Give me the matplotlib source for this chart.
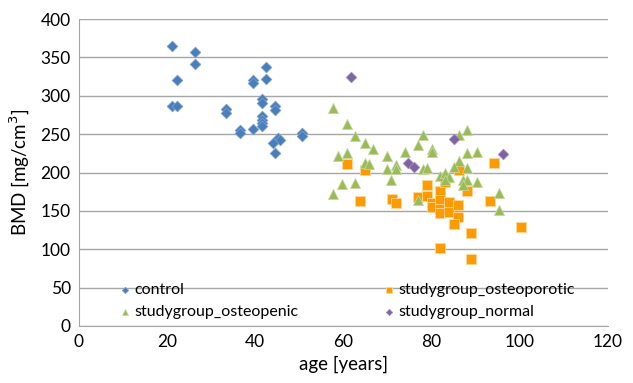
import matplotlib.pyplot as plt

plt.rcParams['font.family'] = ['Lato', 'DejaVu Sans']

# control group
control_age = [21.2, 26.4, 26.4, 22.3, 21.2, 22.3, 33.4, 33.4, 36.5, 36.5,
               39.5, 39.5, 39.5, 41.5, 41.5, 41.5, 41.5, 41.5, 41.5, 42.5,
               42.5, 44.5, 44.5, 45.1, 45.6, 44.1, 44.5, 50.6, 50.6]
control_bmd = [365, 357, 342, 321, 286, 286, 283, 277, 255, 251,
               320, 317, 257, 296, 290, 273, 268, 264, 260, 337,
               322, 287, 282, 245, 242, 238, 226, 251, 248]

# osteoporotic
porotic_age = [60.8, 64.9, 63.8, 70.9, 72.0, 79.0, 76.9, 79.0, 80.0, 80.0,
               82.0, 82.0, 82.0, 82.0, 84.0, 84.0, 86.0, 86.0, 85.0, 88.1,
               89.0, 82.0, 89.0, 93.2, 100.2, 94.2, 86.1, 83.0]
porotic_bmd = [211, 203, 163, 166, 160, 184, 168.5, 169, 160, 155,
               175.5, 164, 152, 147, 161, 148, 158, 141.5, 133, 176,
               121, 101.5, 87, 163, 129.5, 213, 203, 188]

# osteopenic
penic_age = [57.7, 60.7, 62.7, 64.8, 66.7, 58.7, 60.8, 69.8, 73.9, 64.8,
             65.8, 69.8, 71.9, 71.9, 70.8, 59.7, 62.7, 57.7, 77.0, 78.0,
             80.0, 80.0, 78.0, 79.0, 82.0, 83.0, 84.0, 83.0, 86.1, 88.1,
             88.1, 90.2, 86.1, 85.0, 88.1, 87.0, 88.1, 87.0, 90.2, 95.2,
             95.2, 76.9]
penic_bmd = [284, 263, 248, 239, 230, 222, 226, 221, 227, 212,
             211, 205, 210, 204, 190, 185, 186, 172, 235.5, 248.5,
             230, 227, 205, 205.5, 195.5, 200, 194, 190, 249, 255,
             225, 227, 215, 207.6, 205.4, 190.5, 190, 184, 188, 173,
             150.5, 164]

# normal
normal_age = [61.7, 74.7, 76.0, 85.0, 96.2]
normal_bmd = [325, 213, 207.5, 244, 224]

fig = plt.figure(figsize=(6.33, 3.83), dpi=100)
ax = fig.add_axes([79/633, 1 - 326/383, (608-79)/633, (326-19)/383])

h1 = ax.scatter(control_age, control_bmd, marker='D', s=30, color='#4A7EBB',
                edgecolors='#7FA3D1', linewidths=0.5, label='control', zorder=3)
h2 = ax.scatter(porotic_age, porotic_bmd, marker='s', s=42, color='#FF9A00',
                edgecolors='#FFD79A', linewidths=0.6, label='studygroup_osteoporotic', zorder=3)
h3 = ax.scatter(penic_age, penic_bmd, marker='^', s=55, color='#9BBB59',
                edgecolors='#C9DBA5', linewidths=0.5, label='studygroup_osteopenic', zorder=3)
h4 = ax.scatter(normal_age, normal_bmd, marker='D', s=30, color='#8064A2',
                edgecolors='#A893C2', linewidths=0.5, label='studygroup_normal', zorder=3)

ax.set_xlim(0, 120)
ax.set_ylim(0, 400)
ax.set_xticks(range(0, 121, 20))
ax.set_yticks(range(0, 401, 50))
ax.grid(axis='y', color='#A6A6A6', linewidth=1)
ax.set_axisbelow(True)
for s in ['top', 'right']:
    ax.spines[s].set_visible(False)
for s in ['left', 'bottom']:
    ax.spines[s].set_color('#A6A6A6')
ax.tick_params(length=0, labelsize=12.5, colors='#000000', pad=6)

ax.set_xlabel('age [years]', fontsize=13.5, labelpad=4)
ax.set_ylabel('BMD [mg/cm$^3$]', fontsize=13.5, labelpad=6)

# column-first fill: control/osteopenic on the left, osteoporotic/normal on the right
ax.legend([h1, h3, h2, h4],
          ['control', 'studygroup_osteopenic', 'studygroup_osteoporotic', 'studygroup_normal'],
          loc='lower left', bbox_to_anchor=(0.045, -0.025), ncol=2, frameon=False,
          fontsize=11.5, handletextpad=0.1, columnspacing=5.15, markerscale=0.6,
          handlelength=1.0, labelspacing=0.5)

fig.savefig('out.png', dpi=100)
